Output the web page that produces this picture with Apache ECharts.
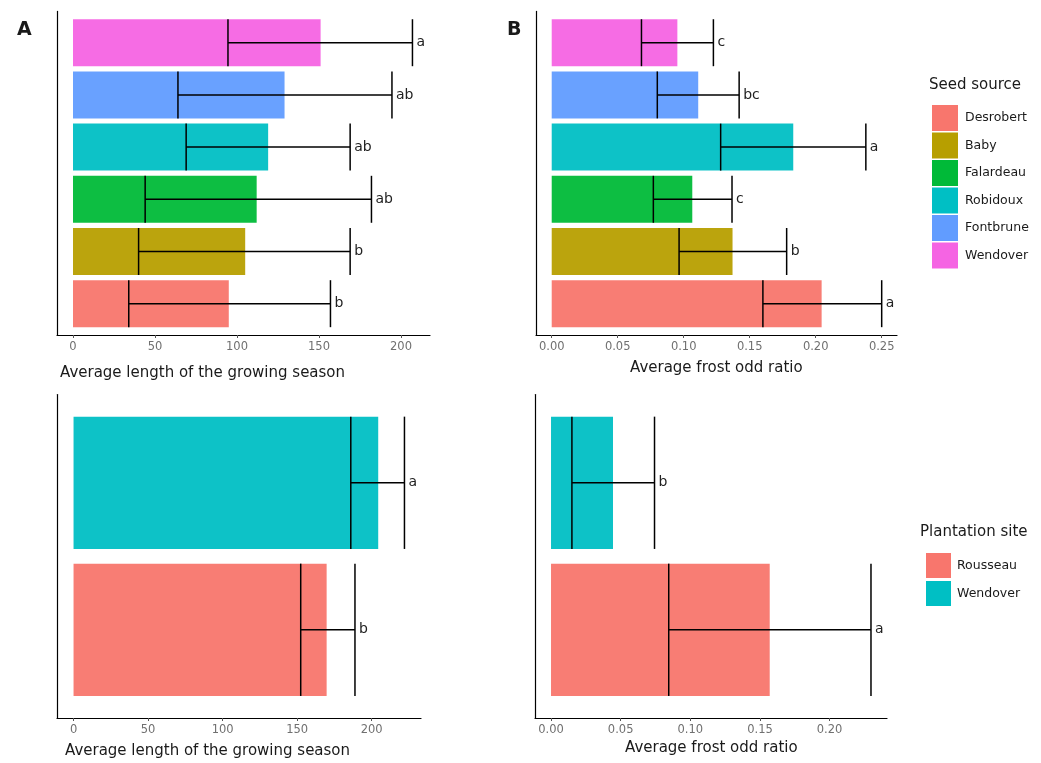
<!DOCTYPE html>
<html>
<head>
<meta charset="utf-8">
<script src="https://cdn.jsdelivr.net/npm/echarts@6/dist/echarts.min.js"></script>
<style>html,body{margin:0;padding:0;background:#fff}#c{width:1041px;height:763px}</style>
</head>
<body>
<div id="c"></div>
<script>
// ---- data ----
const seedSources = ['Desrobert','Baby','Falardeau','Robidoux','Fontbrune','Wendover'];
const seedColors = ['#F8766D','#B79F00','#00BA38','#00BFC4','#619CFF','#F564E3'];
const growthMean = [95, 105, 112, 119, 129, 151];
const growthLow = [34, 40, 44, 69, 64, 94.5];
const growthHigh = [157, 169, 182, 169, 194.5, 207];
const growthLetters = ['b','b','ab','ab','ab','a'];
const frostMean = [0.2045, 0.137, 0.1065, 0.183, 0.111, 0.0952];
const frostLow = [0.160, 0.0965, 0.077, 0.128, 0.080, 0.068];
const frostHigh = [0.250, 0.178, 0.1366, 0.238, 0.142, 0.1225];
const frostLetters = ['a','b','c','a','bc','c'];

const sites = ['Rousseau','Wendover'];
const siteColors = ['#F8766D','#00BFC4'];
const siteGrowthMean = [169.8, 204.4];
const siteGrowthLow = [152.4, 186];
const siteGrowthHigh = [188.8, 222];
const siteGrowthLetters = ['b','a'];
const siteFrostMean = [0.157, 0.0445];
const siteFrostLow = [0.0845, 0.015];
const siteFrostHigh = [0.2297, 0.0743];
const siteFrostLetters = ['a','b'];

const growthTicks = [0, 50, 100, 150, 200];
const frostTicksTop = [0, 0.05, 0.10, 0.15, 0.20, 0.25];
const frostTicksBottom = [0, 0.05, 0.10, 0.15, 0.20];

// ---- chart ----
const FONT = 'DejaVu Sans';
const chart = echarts.init(document.getElementById('c'));

const grids = [
  {left: 57, top: 11.4, width: 373, height: 323.6},
  {left: 536, top: 11.4, width: 361, height: 323.6},
  {left: 57, top: 394.6, width: 364, height: 323.4},
  {left: 535, top: 394.6, width: 352, height: 323.4}
];

function xAxisDef(gi, min, max, ticks, dec) {
  return {
    type: 'value', gridIndex: gi, min: min, max: max,
    splitLine: {show: false},
    axisLine: {show: true, onZero: false, lineStyle: {color: '#000', width: 1.2}},
    axisTick: {show: true, length: 3, customValues: ticks, lineStyle: {color: '#555'}},
    axisLabel: {show: true, customValues: ticks, margin: 6, color: '#707070', fontSize: 11.5, fontFamily: FONT,
      formatter: v => dec ? v.toFixed(2) : String(v)}
  };
}
function yAxisDef(gi, n) {
  return {
    type: 'value', gridIndex: gi, min: -0.6, max: n - 1 + 0.6,
    splitLine: {show: false}, axisTick: {show: false}, axisLabel: {show: false},
    axisLine: {show: true, onZero: false, lineStyle: {color: '#000', width: 1.2}}
  };
}

function barRender(params, api) {
  const v = api.value(0), i = api.value(1);
  const p0 = api.coord([0, i + 0.45]);
  const p1 = api.coord([v, i - 0.45]);
  return {type: 'rect', shape: {x: p0[0], y: p0[1], width: p1[0] - p0[0], height: p1[1] - p0[1]},
    style: {fill: api.visual('color'), opacity: 0.95}};
}
function errRenderer(letters) {
  return function (params, api) {
    const i = api.value(0), lo = api.value(1), hi = api.value(2);
    const a = api.coord([lo, i]), b = api.coord([hi, i]);
    const top = api.coord([lo, i + 0.45])[1], bot = api.coord([lo, i - 0.45])[1];
    const ls = {stroke: '#000', lineWidth: 1.5};
    return {type: 'group', children: [
      {type: 'line', shape: {x1: a[0], y1: a[1], x2: b[0], y2: b[1]}, style: ls},
      {type: 'line', shape: {x1: a[0], y1: top, x2: a[0], y2: bot}, style: ls},
      {type: 'line', shape: {x1: b[0], y1: top, x2: b[0], y2: bot}, style: ls},
      {type: 'text', x: b[0] + 4, y: b[1], style: {text: letters[params.dataIndex], fontSize: 14,
        fontFamily: FONT, fill: '#222', align: 'left', verticalAlign: 'middle'}}
    ]};
  };
}

const series = [];
function addBars(gi, names, colors, vals) {
  names.forEach((nm, i) => {
    series.push({type: 'custom', name: nm, xAxisIndex: gi, yAxisIndex: gi,
      itemStyle: {color: colors[i]}, renderItem: barRender,
      encode: {x: 0, y: 1}, data: [[vals[i], i]], z: 2});
  });
}
function addErr(gi, lo, hi, letters) {
  series.push({type: 'custom', name: 'err' + gi, xAxisIndex: gi, yAxisIndex: gi,
    renderItem: errRenderer(letters), encode: {x: [1, 2], y: 0},
    data: lo.map((l, i) => [i, l, hi[i]]), z: 5});
}
addBars(0, seedSources, seedColors, growthMean);
addErr(0, growthLow, growthHigh, growthLetters);
addBars(1, seedSources, seedColors, frostMean);
addErr(1, frostLow, frostHigh, frostLetters);
addBars(2, sites, siteColors, siteGrowthMean);
addErr(2, siteGrowthLow, siteGrowthHigh, siteGrowthLetters);
addBars(3, sites, siteColors, siteFrostMean);
addErr(3, siteFrostLow, siteFrostHigh, siteFrostLetters);

function txt(x, y, s, size, extra) {
  return {type: 'text', x: x, y: y, style: Object.assign({text: s, fontSize: size, fontFamily: FONT,
    fill: '#1a1a1a', align: 'left', verticalAlign: 'middle'}, extra || {})};
}

chart.setOption({
  animation: false,
  grid: grids,
  xAxis: [
    xAxisDef(0, -9.76, 217.7, growthTicks, false),
    xAxisDef(1, -0.0119, 0.2616, frostTicksTop, true),
    xAxisDef(2, -11.1, 233.1, growthTicks, false),
    xAxisDef(3, -0.0115, 0.2412, frostTicksBottom, true)
  ],
  yAxis: [yAxisDef(0, 6), yAxisDef(1, 6), yAxisDef(2, 2), yAxisDef(3, 2)],
  legend: [
    {orient: 'vertical', left: 927, top: 100, itemWidth: 26, itemHeight: 26, itemGap: 1.5,
      icon: 'rect', selectedMode: false, data: seedSources.slice(),
      textStyle: {fontSize: 12.5, fontFamily: FONT, color: '#1a1a1a', padding: [0, 0, 0, 2]}},
    {orient: 'vertical', left: 921, top: 548, itemWidth: 25, itemHeight: 25, itemGap: 3,
      icon: 'rect', selectedMode: false,
      data: [{name: 'Rousseau', itemStyle: {color: siteColors[0]}}, {name: 'Wendover', itemStyle: {color: siteColors[1]}}],
      textStyle: {fontSize: 12.5, fontFamily: FONT, color: '#1a1a1a', padding: [0, 0, 0, 1]}}
  ],
  graphic: [
    txt(17, 30, 'A', 19, {fontWeight: 'bold'}),
    txt(507, 30, 'B', 19, {fontWeight: 'bold'}),
    txt(60, 373, 'Average length of the growing season', 15),
    txt(630, 368, 'Average frost odd ratio', 15),
    txt(65, 751, 'Average length of the growing season', 15),
    txt(625, 748, 'Average frost odd ratio', 15),
    txt(929, 85, 'Seed source', 15),
    txt(920, 532, 'Plantation site', 15)
  ],
  series: series
});
</script>
</body>
</html>
